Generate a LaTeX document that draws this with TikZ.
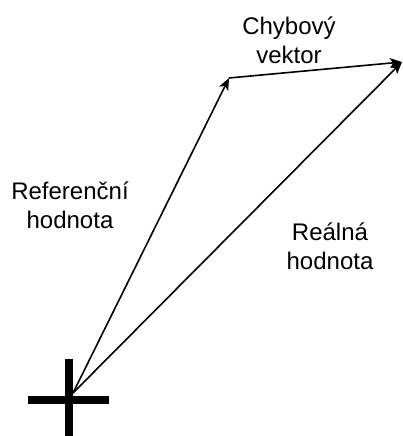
\documentclass[tikz,border=0pt]{standalone}
\usepackage{fontspec}
\setmainfont{Liberation Sans}
\usetikzlibrary{arrows.meta}
\begin{document}
\begin{tikzpicture}[x=1pt,y=-1pt, vec/.style={line width=1.6pt,-{Stealth[length=12pt,width=10pt,inset=3pt]}},
 lbl/.style={inner sep=0pt,align=center,font=\fontsize{24}{28.8}\selectfont}]
\useasboundingbox (0,0) rectangle (403,436);
\path (73,393) coordinate (O) (229,78) coordinate (R) (402,62) coordinate (S)
 (289,40.6) node[lbl] (chyba) {Chybový\\vektor}
 (70,205.4) node[lbl] (ref) {Referenční\\hodnota}
 (330,246.4) node[lbl] (real) {Reálná\\hodnota};
\foreach \a/\b in {O/R, R/S, O/S} \draw[vec] (\a) -- (\b);
% kriz
\draw[line width=8pt] (28,400) -- (109,400) (68.5,359) -- (68.5,440);
\end{tikzpicture}
\end{document}
